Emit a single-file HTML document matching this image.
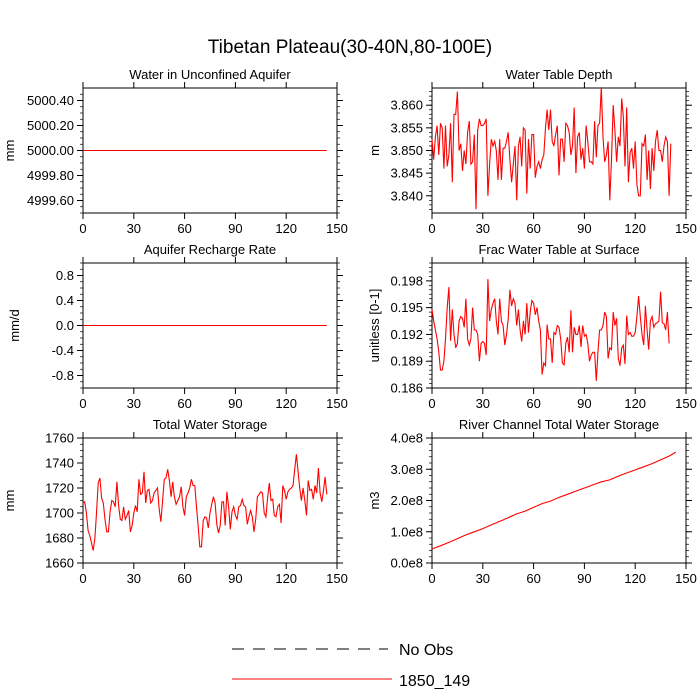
<!DOCTYPE html>
<html><head><meta charset="utf-8"><style>
html,body{margin:0;padding:0;background:#fff;width:700px;height:700px;overflow:hidden}
svg{font-family:"Liberation Sans",sans-serif}
</style></head><body>
<svg id="c" width="700" height="700" viewBox="0 0 700 700" xmlns="http://www.w3.org/2000/svg">
<text x="350" y="53" font-size="19" text-anchor="middle">Tibetan Plateau(30-40N,80-100E)</text>
<g>
<line x1="232" y1="649" x2="388" y2="649" stroke="#000" stroke-width="1" stroke-dasharray="12,9"/>
<text x="399" y="655" font-size="16">No Obs</text>
<line x1="232" y1="679" x2="392" y2="679" stroke="#f00" stroke-width="1"/>
<text x="399" y="686" font-size="16">1850_149</text>
</g>
</svg>
<script>
const wtdVals=[3.8525,3.848,3.853,3.8555,3.849,3.856,3.855,3.846,3.8555,3.8465,3.849,3.856,3.843,3.858,3.858,3.863,3.850,3.8515,3.8455,3.850,3.847,3.854,3.8565,3.847,3.8475,3.8535,3.837,3.8545,3.857,3.8555,3.8555,3.856,3.857,3.840,3.847,3.8525,3.851,3.852,3.850,3.8435,3.8525,3.8435,3.8505,3.8505,3.852,3.854,3.848,3.843,3.847,3.851,3.839,3.851,3.853,3.8465,3.855,3.8545,3.8405,3.8525,3.846,3.8535,3.8535,3.844,3.8465,3.8475,3.846,3.848,3.849,3.855,3.859,3.8545,3.859,3.852,3.851,3.8535,3.8555,3.8445,3.8525,3.8525,3.8475,3.856,3.8555,3.854,3.849,3.851,3.8595,3.845,3.853,3.854,3.848,3.8505,3.846,3.8555,3.852,3.8475,3.8475,3.847,3.8565,3.8485,3.8555,3.856,3.864,3.853,3.8475,3.849,3.852,3.839,3.848,3.860,3.8545,3.8475,3.853,3.851,3.8615,3.8575,3.8465,3.8595,3.843,3.8495,3.8505,3.846,3.852,3.8425,3.840,3.840,3.8515,3.851,3.8535,3.8435,3.850,3.8415,3.8505,3.8455,3.852,3.8545,3.850,3.850,3.8475,3.851,3.853,3.852,3.840,3.8515];
const fracVals=[0.1948,0.1935,0.1925,0.1915,0.190,0.188,0.188,0.189,0.1915,0.195,0.1973,0.1913,0.1948,0.192,0.1905,0.191,0.1935,0.194,0.1938,0.1928,0.196,0.1915,0.1908,0.1915,0.195,0.1925,0.1925,0.192,0.189,0.191,0.1912,0.191,0.1897,0.1982,0.1935,0.1948,0.1955,0.196,0.1935,0.192,0.196,0.1935,0.193,0.1908,0.192,0.1937,0.197,0.1952,0.196,0.1955,0.193,0.1948,0.1925,0.1912,0.1935,0.192,0.1955,0.1922,0.1945,0.1958,0.1955,0.1942,0.195,0.1935,0.1925,0.1875,0.1888,0.1885,0.1931,0.1915,0.1915,0.1888,0.1922,0.192,0.193,0.1928,0.1915,0.1888,0.1886,0.191,0.1917,0.190,0.1947,0.190,0.1928,0.192,0.192,0.193,0.1906,0.193,0.1918,0.192,0.191,0.189,0.1897,0.190,0.190,0.1868,0.190,0.1925,0.1925,0.193,0.1945,0.194,0.1893,0.1905,0.1903,0.1945,0.193,0.1938,0.1893,0.1885,0.1905,0.1908,0.1887,0.1941,0.192,0.1922,0.1918,0.1918,0.1922,0.194,0.1963,0.194,0.192,0.1908,0.1952,0.1925,0.1903,0.1935,0.194,0.1928,0.1932,0.1933,0.1935,0.1968,0.1933,0.1932,0.1925,0.1945,0.191];
const twsVals=[1708,1709,1700,1686,1682,1676,1670,1680,1700,1724,1728,1712,1708,1695,1685,1685,1701,1710,1709,1705,1725,1706,1695,1694,1705,1695,1698,1702,1685,1690,1700,1706,1701,1727,1715,1716,1733,1708,1718,1719,1708,1710,1716,1718,1720,1703,1693,1710,1727,1728,1735,1726,1713,1725,1713,1707,1710,1713,1721,1705,1698,1713,1716,1720,1727,1722,1722,1705,1690,1673,1673,1694,1697,1696,1688,1700,1707,1713,1708,1691,1684,1690,1709,1709,1690,1717,1705,1687,1701,1705,1698,1695,1705,1706,1711,1706,1705,1691,1697,1702,1697,1685,1695,1713,1715,1717,1716,1700,1697,1712,1724,1710,1711,1698,1697,1705,1707,1692,1722,1718,1711,1717,1719,1720,1722,1735,1747,1733,1720,1710,1720,1710,1698,1726,1718,1719,1711,1722,1716,1736,1716,1709,1718,1729,1715];
const riverX=[0,5,10,15,20,25,30,35,40,45,50,55,60,65,70,75,80,85,90,95,100,105,110,115,120,125,130,135,140,144];
const riverVals=[0.45e8,0.55e8,0.66e8,0.78e8,0.9e8,1.0e8,1.1e8,1.22e8,1.33e8,1.45e8,1.57e8,1.66e8,1.78e8,1.9e8,1.98e8,2.1e8,2.2e8,2.3e8,2.4e8,2.5e8,2.6e8,2.66e8,2.78e8,2.88e8,2.98e8,3.08e8,3.18e8,3.3e8,3.42e8,3.55e8];
const xTicks=[0,30,60,90,120,150];
const NS='http://www.w3.org/2000/svg';
const svg=document.getElementById('c');
function mk(tag,attrs,parent){const e=document.createElementNS(NS,tag);for(const k in attrs)e.setAttribute(k,attrs[k]);(parent||svg).appendChild(e);return e;}
const panels=[
 {name:'water-in-aquifer',title:'Water in Unconfined Aquifer',ylab:'mm',lx:9,x0:83,y0:88,ymin:4999.5,ymax:5000.5,ticks:[4999.6,4999.8,5000.0,5000.2,5000.4],fmt:v=>v.toFixed(2),minor:0.05,const:5000},
 {name:'water-table-depth',title:'Water Table Depth',ylab:'m',lx:374,x0:432,y0:88,ymin:3.8362,ymax:3.8638,ticks:[3.840,3.845,3.850,3.855,3.860],fmt:v=>v.toFixed(3),minor:0.001,vals:wtdVals},
 {name:'aquifer-recharge',title:'Aquifer Recharge Rate',ylab:'mm/d',lx:14,x0:83,y0:263,ymin:-1,ymax:1,ticks:[-0.8,-0.4,0,0.4,0.8],fmt:v=>v.toFixed(1),minor:0.1,const:0},
 {name:'frac-water-table',title:'Frac Water Table at Surface',ylab:'unitless [0-1]',lx:374,x0:432,y0:263,ymin:0.186,ymax:0.200,ticks:[0.186,0.189,0.192,0.195,0.198],fmt:v=>v.toFixed(3),minor:0.0005,vals:fracVals},
 {name:'total-water-storage',title:'Total Water Storage',ylab:'mm',lx:9,x0:83,y0:438,ymin:1660,ymax:1760,ticks:[1660,1680,1700,1720,1740,1760],fmt:v=>String(v),minor:5,vals:twsVals},
 {name:'river-storage',title:'River Channel Total Water Storage',ylab:'m3',lx:374,x0:432,y0:438,ymin:0,ymax:4e8,ticks:[0,1e8,2e8,3e8,4e8],fmt:v=>(v/1e8).toFixed(1)+'e8',minor:0.2e8,vals:riverVals,xs:riverX}
];
const W=254,H=125;
panels.forEach(p=>{
 const g=mk('g',{});
 
 
 const sx=v=>p.x0+v/150*W, sy=v=>p.y0+H-(v-p.ymin)/(p.ymax-p.ymin)*H;
 const t=mk('text',{x:p.x0+W/2,y:p.y0-9,'font-size':13,'text-anchor':'middle'},g);t.textContent=p.title;
 
 
 const yl=mk('text',{x:0,y:0,'font-size':13,'text-anchor':'middle',transform:`translate(${p.lx+5},${p.y0+H/2}) rotate(-90)`},g);yl.textContent=p.ylab;
 
 
 for(let v=p.ymin;v<=p.ymax+1e-12;v+=p.minor){
  const vv=Math.round(v/p.minor)*p.minor; if(vv<p.ymin-1e-12||vv>p.ymax+1e-12)continue;
  const y=sy(vv);
  mk('line',{x1:p.x0-3,x2:p.x0,y1:y,y2:y,stroke:'#000','stroke-width':0.7},g);
  mk('line',{x1:p.x0+W,x2:p.x0+W+3,y1:y,y2:y,stroke:'#000','stroke-width':0.7},g);
 }
 p.ticks.forEach(v=>{const y=sy(v);
  mk('line',{x1:p.x0-6,x2:p.x0,y1:y,y2:y,stroke:'#000','stroke-width':1},g);
  mk('line',{x1:p.x0+W,x2:p.x0+W+6,y1:y,y2:y,stroke:'#000','stroke-width':1},g);
  const l=mk('text',{x:p.x0-9,y:y+4.5,'font-size':13,'text-anchor':'end'},g);l.textContent=p.fmt(v);
  
  
 });
 xTicks.forEach(v=>{const x=sx(v);
  mk('line',{x1:x,x2:x,y1:p.y0+H,y2:p.y0+H+6,stroke:'#000','stroke-width':1},g);
  mk('line',{x1:x,x2:x,y1:p.y0-6,y2:p.y0,stroke:'#000','stroke-width':1},g);
  const l=mk('text',{x:x,y:p.y0+H+20,'font-size':13,'text-anchor':'middle'},g);l.textContent=v;
  
  
 });
 const r=mk('rect',{x:p.x0,y:p.y0,width:W,height:H,fill:'none',stroke:'#000','stroke-width':1},g);
 
 
 let d;
 if(p.vals){d=p.vals.map((v,i)=>(i?'L':'M')+sx(p.xs?p.xs[i]:i).toFixed(1)+','+sy(v).toFixed(1)).join('');}
 else{d='M'+sx(0)+','+sy(p.const)+'L'+sx(144)+','+sy(p.const);}
 const pa=mk('path',{d:d,fill:'none',stroke:'#f00','stroke-width':1.1},g);
 
 
});
</script>
</body></html>
